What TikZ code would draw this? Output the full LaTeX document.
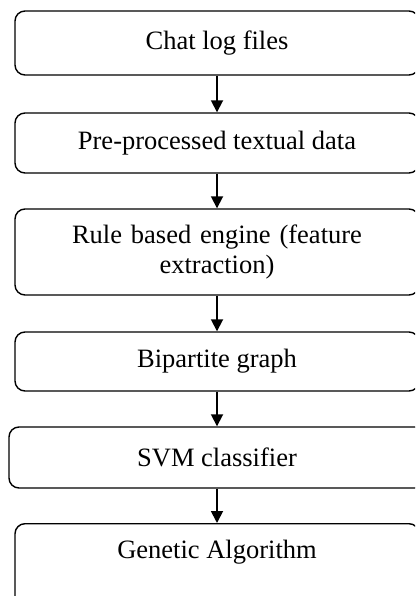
\documentclass[tikz,border=0pt]{standalone}
\usepackage{fontspec}
\setmainfont{Liberation Serif}
\usepackage{tikz}
\usetikzlibrary{positioning,arrows.meta}

\tikzset{
  stage/.style={draw, line width=1.4pt, rounded corners=10pt, inner sep=0pt,
    minimum width=404pt, align=center,
    font=\fontsize{26.5}{30}\selectfont},
  flow/.style={line width=1.8pt, -{Triangle[width=12pt,length=12pt]}}
}

\begin{document}
\begin{tikzpicture}[x=1pt, y=-1pt]
	\clip (0,0) rectangle (415,596);
	\node[stage, minimum height=64pt] (chat) at (217,43) {Chat log files};
    \node[stage, minimum height=60pt] (pre) at (217,143) {Pre-processed textual data};
    \node[stage, minimum height=86pt, text width=330pt] (rule) at (217,252) {Rule based engine (feature\\extraction)};
    \node[stage, minimum height=59pt] (bip) at (217,361.5) {Bipartite graph};
    \node[stage, minimum height=61pt, minimum width=416pt] (svm) at (217,457.5) {SVM classifier};
    \node[stage, anchor=north, text height=35pt, text depth=65pt] (ga) at (217,523) {Genetic Algorithm};
    \draw[flow] (chat) -- (pre);
    \draw[flow] (pre) -- (rule);
    \draw[flow] (rule) -- (bip);
    \draw[flow] (bip) -- (svm);
    \draw[flow] (svm) -- (ga);
\end{tikzpicture}
\end{document}
